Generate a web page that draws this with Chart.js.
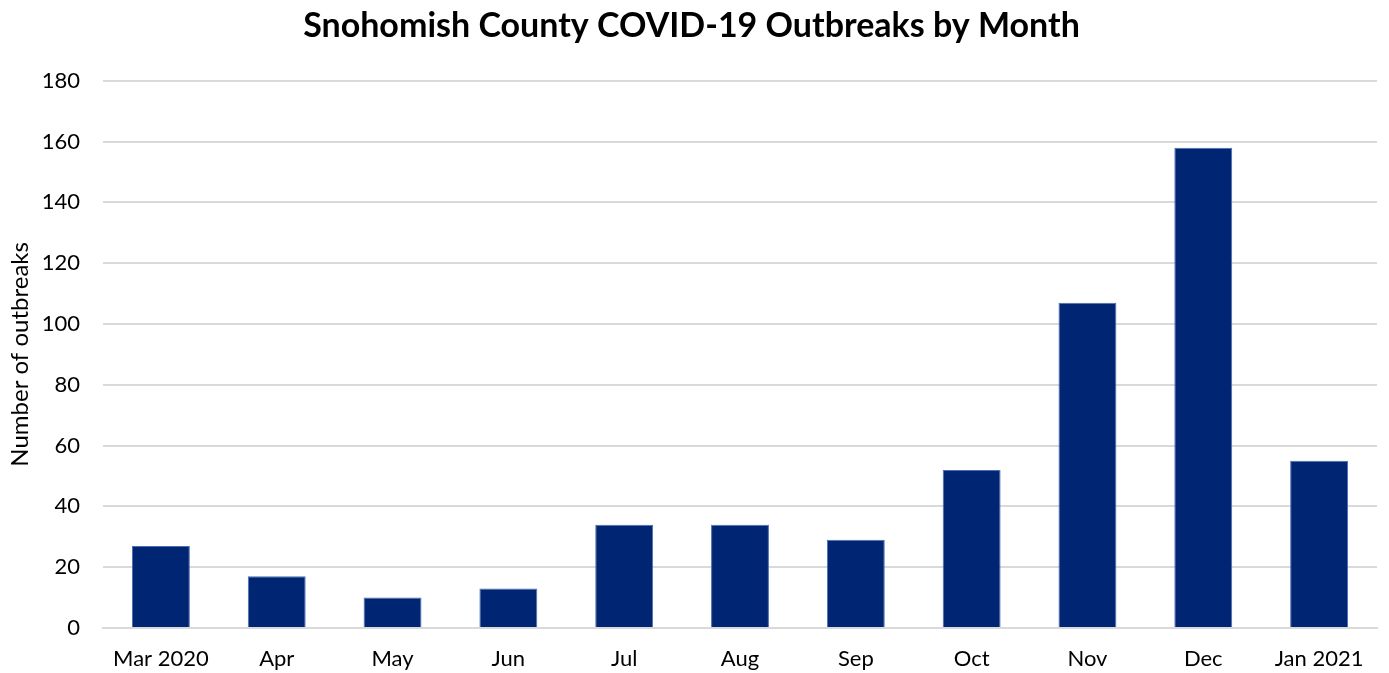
<!DOCTYPE html>
<html>
<head>
<meta charset="utf-8">
<script src="https://cdn.jsdelivr.net/npm/chart.js@4"></script>
<style>
  html, body { margin: 0; padding: 0; background: #fff; }
  #wrap { position: relative; width: 1389px; height: 673px; }
</style>
</head>
<body>
<div id="wrap"><canvas id="chart"></canvas></div>
<script>
// 月份與疫情爆發數
const months = ['Mar 2020', 'Apr', 'May', 'Jun', 'Jul', 'Aug', 'Sep', 'Oct', 'Nov', 'Dec', 'Jan 2021'];
const outbreaks = [27, 17, 10, 13, 34, 34, 29, 52, 107, 158, 55];
const yTicks = [0, 20, 40, 60, 80, 100, 120, 140, 160, 180];

const FONT = 'Lato, "Open Sans", sans-serif';

const ctx = document.getElementById('chart').getContext('2d');
new Chart(ctx, {
    type: 'bar',
    data: {
        labels: months,
        datasets: [{
            label: 'Outbreaks',
            data: outbreaks,
            backgroundColor: '#002673',
            borderColor: '#4a6fb5',
            borderWidth: 1,
            categoryPercentage: 1.0,
            barPercentage: 0.5
        }]
    },
    options: {
        responsive: true,
        maintainAspectRatio: false,
        animation: false,
        layout: { padding: { left: 6, right: 12, top: 6, bottom: 0 } },
        plugins: {
            legend: { display: false },
            tooltip: { enabled: false },
            title: {
                display: true,
                text: 'Snohomish County COVID-19 Outbreaks by Month',
                color: '#000',
                font: { family: FONT, size: 34, weight: 'bold' },
                padding: { top: 0, bottom: 34 }
            }
        },
        scales: {
            x: {
                afterFit: axis => { axis.height = 45; }, // 固定X軸高度
                grid: { display: false, drawTicks: false },
                border: { color: '#d9d9d9', width: 2 },
                ticks: {
                    color: '#000',
                    font: { family: FONT, size: 22 },
                    maxRotation: 0,
                    padding: 18
                }
            },
            y: {
                min: 0,
                max: 180,
                afterBuildTicks: axis => { axis.ticks = yTicks.map(v => ({ value: v })); },
                afterFit: axis => { axis.width = 97; }, // 固定Y軸寬度
                grid: { color: '#d9d9d9', lineWidth: 2, drawTicks: false },
                border: { display: false },
                ticks: {
                    color: '#000',
                    font: { family: FONT, size: 22 },
                    padding: 23
                },
                title: {
                    display: true,
                    text: 'Number of outbreaks',
                    color: '#000',
                    font: { family: FONT, size: 24 },
                    padding: { top: 0, bottom: 0 }
                }
            }
        }
    }
});
</script>
</body>
</html>
